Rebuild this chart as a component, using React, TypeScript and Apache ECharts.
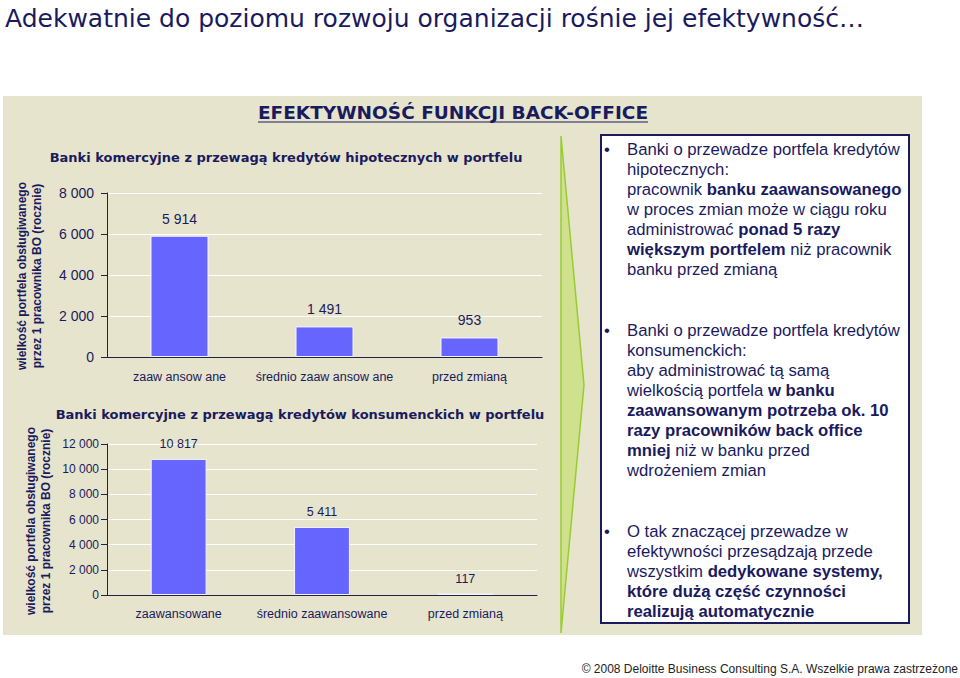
import React, { useEffect, useRef } from "react";
import * as echarts from "echarts";

const categoriesTop = ["zaaw ansow ane", "średnio zaaw ansow ane", "przed zmianą"];
const valuesTop = [5914, 1491, 953];
const categoriesBottom = ["zaawansowane", "średnio zaawansowane", "przed zmianą"];
const valuesBottom = [10817, 5411, 117];

const title = "Adekwatnie do poziomu rozwoju organizacji rośnie jej efektywność…";
const heading = "EFEKTYWNOŚĆ FUNKCJI BACK-OFFICE";
const subTop = "Banki komercyjne z przewagą kredytów hipotecznych w portfelu";
const subBottom = "Banki komercyjne z przewagą kredytów konsumenckich w portfelu";
const yName = "wielkość portfela obsługiwanego\nprzez 1 pracownika BO (rocznie)";
const footer = "© 2008 Deloitte Business Consulting S.A. Wszelkie prawa zastrzeżone";

const bullet1 = [
  "Banki o przewadze portfela kredytów",
  "hipotecznych:",
  "pracownik {b|banku zaawansowanego}",
  "w proces zmian może w ciągu roku",
  "administrować {b|ponad 5 razy}",
  "{b|większym portfelem} niż pracownik",
  "banku przed zmianą",
];
const bullet2 = [
  "Banki o przewadze portfela kredytów",
  "konsumenckich:",
  "aby administrować tą samą",
  "wielkością portfela {b|w banku}",
  "{b|zaawansowanym potrzeba ok. 10}",
  "{b|razy pracowników back office}",
  "{b|mniej} niż w banku przed",
  "wdrożeniem zmian",
];
const bullet3 = [
  "O tak znaczącej przewadze w",
  "efektywności przesądzają przede",
  "wszystkim {b|dedykowane systemy,}",
  "{b|które dużą część czynności}",
  "{b|realizują automatycznie}",
];

const NAVY = "#1a1a5e";
const fmt = (v: number) => String(v).replace(/\B(?=(\d{3})+(?!\d))/g, " ");

export default function App() {
  const ref = useRef<HTMLDivElement>(null);
  useEffect(() => {
    if (!ref.current) return;
    const chart = echarts.init(ref.current, undefined, { renderer: "svg" });
    const axisLabel = { color: NAVY, fontFamily: "Liberation Sans, Arial", fontSize: 12.5, interval: 0 };
    const bulletText = (lines: string[], y: number) => [
      {
        type: "text",
        x: 604,
        y,
        style: { text: "•", font: "16.7px Liberation Sans", fill: NAVY, lineHeight: 20, textVerticalAlign: "top" },
      },
      {
        type: "text",
        x: 627,
        y,
        style: {
          text: lines.join("\n"),
          font: "16.7px Liberation Sans",
          fill: NAVY,
          lineHeight: 20,
          textVerticalAlign: "top",
          rich: {
            b: { fontWeight: "bold", fontSize: 16.7, fontFamily: "Liberation Sans", fill: NAVY, lineHeight: 20 },
          },
        },
      },
    ];
    chart.setOption({
      animation: false,
      backgroundColor: "#ffffff",
      graphic: [
        { type: "rect", shape: { x: 3, y: 96, width: 919, height: 539 }, style: { fill: "#e6e4cc" }, z: -10 },
        {
          type: "text",
          x: 5,
          y: 18,
          style: { text: title, font: "25px DejaVu Sans", fill: NAVY, textVerticalAlign: "middle" },
        },
        {
          type: "text",
          x: 453,
          y: 112,
          style: { text: heading, font: "bold 18.5px DejaVu Sans", fill: NAVY, textAlign: "center", textVerticalAlign: "middle" },
        },
        { type: "line", shape: { x1: 258, y1: 122, x2: 648, y2: 122 }, style: { stroke: NAVY, lineWidth: 1.2 } },
        {
          type: "text",
          x: 286,
          y: 157,
          style: { text: subTop, font: "bold 13px DejaVu Sans", fill: NAVY, textAlign: "center", textVerticalAlign: "middle" },
        },
        {
          type: "text",
          x: 300,
          y: 414,
          style: { text: subBottom, font: "bold 13px DejaVu Sans", fill: NAVY, textAlign: "center", textVerticalAlign: "middle" },
        },
        {
          type: "text",
          x: 29,
          y: 276,
          rotation: Math.PI / 2,
          style: { text: yName, font: "bold 12px Liberation Sans", fill: NAVY, textAlign: "center", textVerticalAlign: "middle", lineHeight: 15 },
        },
        {
          type: "text",
          x: 38,
          y: 521,
          rotation: Math.PI / 2,
          style: { text: yName, font: "bold 12px Liberation Sans", fill: NAVY, textAlign: "center", textVerticalAlign: "middle", lineHeight: 15 },
        },
        {
          type: "polygon",
          shape: { points: [[561, 136], [584, 385], [561, 633]] },
          style: { fill: "#cfe18c", stroke: "#99cc33", lineWidth: 1.5 },
        },
        {
          type: "rect",
          shape: { x: 601, y: 135, width: 308, height: 488 },
          style: { fill: "#ffffff", stroke: NAVY, lineWidth: 2 },
        },
        ...bulletText(bullet1, 139),
        ...bulletText(bullet2, 320),
        ...bulletText(bullet3, 521),
        {
          type: "text",
          x: 958,
          y: 669,
          style: { text: footer, font: "12px Liberation Sans", fill: "#222222", textAlign: "right", textVerticalAlign: "middle" },
        },
      ],
      grid: [
        { left: 107, top: 193, width: 435, height: 164 },
        { left: 107, top: 444, width: 430, height: 151 },
      ],
      xAxis: [
        {
          type: "category",
          gridIndex: 0,
          data: categoriesTop,
          axisLine: { lineStyle: { color: "#222244", width: 1 } },
          axisTick: { lineStyle: { color: "#222244" }, length: 5 },
          axisLabel: { ...axisLabel, margin: 13 },
        },
        {
          type: "category",
          gridIndex: 1,
          data: categoriesBottom,
          axisLine: { lineStyle: { color: "#222244", width: 1 } },
          axisTick: { lineStyle: { color: "#222244" }, length: 5 },
          axisLabel: { ...axisLabel, margin: 12 },
        },
      ],
      yAxis: [
        {
          type: "value",
          gridIndex: 0,
          min: 0,
          max: 8000,
          interval: 2000,
          axisLine: { show: true, lineStyle: { color: "#222244" } },
          axisTick: { show: true, length: 6, lineStyle: { color: "#222244" } },
          axisLabel: { color: NAVY, fontFamily: "Liberation Sans, Arial", fontSize: 14, margin: 13, formatter: (v: number) => fmt(v) },
          splitLine: { lineStyle: { color: "#ffffff", width: 1 } },
        },
        {
          type: "value",
          gridIndex: 1,
          min: 0,
          max: 12000,
          interval: 2000,
          axisLine: { show: true, lineStyle: { color: "#222244" } },
          axisTick: { show: true, length: 6, lineStyle: { color: "#222244" } },
          axisLabel: { color: NAVY, fontFamily: "Liberation Sans, Arial", fontSize: 12, margin: 8, formatter: (v: number) => fmt(v) },
          splitLine: { lineStyle: { color: "#ffffff", width: 1 } },
        },
      ],
      series: [
        {
          type: "bar",
          xAxisIndex: 0,
          yAxisIndex: 0,
          data: valuesTop,
          barWidth: "40%",
          itemStyle: { color: "#6666ff", borderColor: "#f4f4ff", borderWidth: 1 },
          label: { show: true, position: "top", distance: 10, color: NAVY, fontFamily: "Liberation Sans", fontSize: 14, formatter: (p: any) => fmt(p.value) },
        },
        {
          type: "bar",
          xAxisIndex: 1,
          yAxisIndex: 1,
          data: valuesBottom,
          barWidth: "39%",
          itemStyle: { color: "#6666ff", borderColor: "#f4f4ff", borderWidth: 1 },
          label: { show: true, position: "top", distance: 8, color: NAVY, fontFamily: "Liberation Sans", fontSize: 12.5, formatter: (p: any) => fmt(p.value) },
        },
      ],
    });
    return () => chart.dispose();
  }, []);
  return <div ref={ref} style={{ position: "fixed", left: 0, top: 0, width: 960, height: 678 }} />;
}
